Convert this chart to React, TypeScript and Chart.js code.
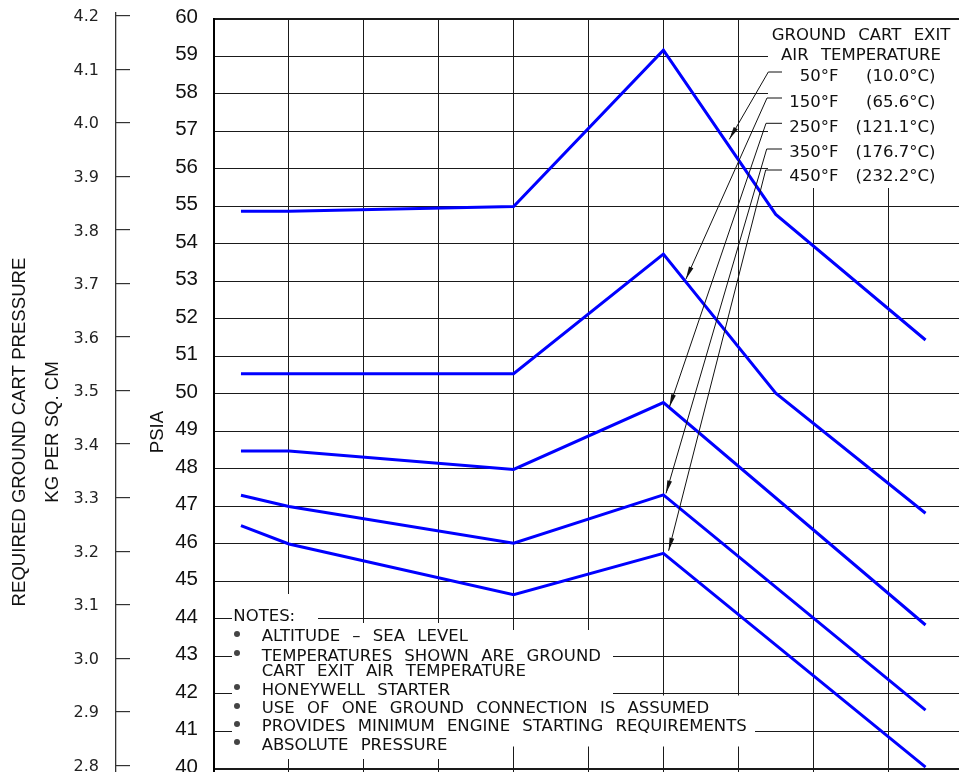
import React, { useEffect, useRef } from 'react';
import { Chart, registerables } from 'chart.js';

Chart.register(...registerables);

// ---------------- data ----------------
const AMBIENT_F = [-52.8, -40, 20, 60, 90, 130];
const PSIA_50F = [54.87, 54.87, 55.0, 59.17, 54.79, 51.44];
const PSIA_150F = [50.54, 50.54, 50.54, 53.73, 50.02, 46.82];
const PSIA_250F = [48.48, 48.48, 47.99, 49.77, null, 43.84];
const PSIA_350F = [47.3, 47.0, 46.02, 47.31, null, 41.57];
const PSIA_450F = [46.49, 46.0, 44.65, 45.75, null, 40.05];

const SERIES_F = ['50°F', '150°F', '250°F', '350°F', '450°F'];
const SERIES_C = ['(10.0°C)', '(65.6°C)', '(121.1°C)', '(176.7°C)', '(232.2°C)'];

const PSIA_TICKS = [40, 41, 42, 43, 44, 45, 46, 47, 48, 49, 50, 51, 52, 53, 54, 55, 56, 57, 58, 59, 60];
const KG_TICKS = [2.8, 2.9, 3.0, 3.1, 3.2, 3.3, 3.4, 3.5, 3.6, 3.7, 3.8, 3.9, 4.0, 4.1, 4.2];

// where each legend arrow points (ambient °F, PSIA)
const ARROW_X = [77.6, 66.0, 61.6, 60.7, 61.4];
const ARROW_PSIA = [56.79, 53.06, 49.65, 47.35, 45.82];

const LEGEND_TITLE = ['GROUND CART EXIT', 'AIR TEMPERATURE'];
const NOTES_TITLE = 'NOTES:';
const NOTE_LINES = [
  'ALTITUDE – SEA LEVEL',
  'TEMPERATURES SHOWN ARE GROUND',
  'CART EXIT AIR TEMPERATURE',
  'HONEYWELL STARTER',
  'USE OF ONE GROUND CONNECTION IS ASSUMED',
  'PROVIDES MINIMUM ENGINE STARTING REQUIREMENTS',
  'ABSOLUTE PRESSURE',
];
const NOTE_BULLET = [true, true, false, true, true, true, true];

// ---------------- layout ----------------
const CANVAS_W = 963;
const CANVAS_H = 865;
const LEGEND_TITLE_Y = [34.5, 54.5];
const LEGEND_CENTER_X = 861;
const LEGEND_ROW_Y = [76, 102, 127, 152, 176];
const LEGEND_F_RIGHT = 838.5;
const LEGEND_C_RIGHT = 935.5;
const LEADER_START = [
  [768.3, 72],
  [767, 98],
  [766, 123.3],
  [766.7, 149],
  [765.7, 170],
];
const STUB_END_X = 782;
const NOTES_TITLE_POS = [233.3, 616.3];
const NOTE_X = 261.7;
const NOTE_Y = [636, 655.5, 671, 689.7, 708, 726, 744.5];
const BULLET_X = 236.7;

const MASKS = [
  [212, 0, 760, 18],
  [768, 20, 200, 168],
  [232, 594, 86, 29],
  [232, 623, 258, 7],
  [232, 630, 381, 66],
  [232, 695.5, 523, 51],
  [232, 746, 228, 13],
];

const BLUE = '#0000ff';
const GRID = '#1a1a1a';
const INK = '#111';
const SANS = "'Liberation Sans', Arial, sans-serif";
const CAD = "'DejaVu Sans', sans-serif";

const maskPlugin = {
  id: 'masks',
  beforeDatasetsDraw(chart: any) {
    const ctx = chart.ctx;
    ctx.save();
    ctx.fillStyle = '#ffffff';
    for (const [x, y, w, h] of MASKS) ctx.fillRect(x, y, w, h);
    ctx.restore();
  },
};

const leaderPlugin = {
  id: 'leaders',
  afterDatasetsDraw(chart: any) {
    const { ctx } = chart;
    const xs = chart.scales.x;
    const ys = chart.scales.y;
    ctx.save();
    ctx.strokeStyle = INK;
    ctx.fillStyle = INK;
    ctx.lineWidth = 1;
    LEADER_START.forEach(([sx, sy], i) => {
      const tx = xs.getPixelForValue(ARROW_X[i]);
      const ty = ys.getPixelForValue(ARROW_PSIA[i]);
      ctx.beginPath();
      ctx.moveTo(STUB_END_X, sy);
      ctx.lineTo(sx, sy);
      ctx.lineTo(tx, ty);
      ctx.stroke();
      const ang = Math.atan2(ty - sy, tx - sx);
      const L = 13;
      const W = 2.4;
      const bx = tx - L * Math.cos(ang);
      const by = ty - L * Math.sin(ang);
      ctx.beginPath();
      ctx.moveTo(tx, ty);
      ctx.lineTo(bx + W * Math.sin(ang), by - W * Math.cos(ang));
      ctx.lineTo(bx - W * Math.sin(ang), by + W * Math.cos(ang));
      ctx.closePath();
      ctx.fill();
    });
    ctx.restore();
  },
};

function makeSeries(label: string, values: (number | null)[]) {
  return {
    label,
    data: AMBIENT_F.map((x, i) => ({ x, y: values[i] })),
    borderColor: BLUE,
    backgroundColor: BLUE,
    borderWidth: 3,
    pointRadius: 0,
    tension: 0,
    fill: false,
    spanGaps: true,
    yAxisID: 'y',
  };
}

const noPad = (s: any) => {
  s.paddingTop = 0;
  s.paddingBottom = 0;
  s.paddingLeft = 0;
  s.paddingRight = 0;
};

export default function App() {
  const ref = useRef<HTMLCanvasElement>(null);

  useEffect(() => {
    const canvas = ref.current;
    if (!canvas) return;
    const chart = new Chart(canvas, {
      type: 'line',
      data: {
        datasets: [
          makeSeries(`${SERIES_F[0]} ${SERIES_C[0]}`, PSIA_50F),
          makeSeries(`${SERIES_F[1]} ${SERIES_C[1]}`, PSIA_150F),
          makeSeries(`${SERIES_F[2]} ${SERIES_C[2]}`, PSIA_250F),
          makeSeries(`${SERIES_F[3]} ${SERIES_C[3]}`, PSIA_350F),
          makeSeries(`${SERIES_F[4]} ${SERIES_C[4]}`, PSIA_450F),
        ],
      },
      options: {
        responsive: false,
        animation: false,
        events: [],
        layout: { autoPadding: false, padding: { top: 13, bottom: 14, left: 0, right: 0 } },
        plugins: {
          legend: { display: false },
          tooltip: { enabled: false },
          title: { display: false },
        },
        scales: {
          x: {
            type: 'linear',
            position: 'bottom',
            min: -60,
            max: 140,
            ticks: { display: false, stepSize: 20 },
            grid: { color: GRID, lineWidth: 1, drawTicks: false },
            border: { display: false },
            afterFit: (s: any) => {
              s.height = 0;
              noPad(s);
            },
          },
          y: {
            type: 'linear',
            position: 'left',
            weight: 0,
            min: 37.8133,
            max: 60.16,
            bounds: 'data',
            afterBuildTicks: (s: any) => {
              s.ticks = PSIA_TICKS.map((v) => ({ value: v }));
            },
            ticks: {
              font: { family: SANS, size: 20.5 },
              color: INK,
              padding: 16,
              labelOffset: -2,
              callback: (v: any) => String(v),
            },
            grid: {
              color: GRID,
              lineWidth: (c: any) => (c.tick && (c.tick.value === 60 || c.tick.value === 40) ? 2 : 1),
              drawTicks: false,
            },
            border: { display: true, color: '#000', width: 2 },
            title: {
              display: true,
              text: 'PSIA',
              color: INK,
              font: { family: SANS, size: 18.6, lineHeight: 1.2 },
              padding: { top: 30.3, bottom: 0 },
            },
            afterFit: (s: any) => {
              s.width = 98;
              noPad(s);
            },
          },
          kg: {
            type: 'linear',
            position: 'left',
            display: true,
            weight: 1,
            min: 2.63986,
            max: 4.20504,
            bounds: 'data',
            afterBuildTicks: (s: any) => {
              s.ticks = KG_TICKS.map((v) => ({ value: v }));
            },
            ticks: {
              font: { family: CAD, size: 16 },
              color: '#222',
              padding: 31,
              labelOffset: 1.5,
              callback: (v: any) => Number(v).toFixed(1),
            },
            grid: {
              drawOnChartArea: false,
              drawTicks: true,
              tickLength: -14,
              color: '#333',
              lineWidth: 1.2,
            },
            border: { display: true, color: '#333', width: 1.3 },
            title: {
              display: true,
              text: ['REQUIRED GROUND CART PRESSURE', 'KG PER SQ. CM'],
              color: INK,
              font: { family: SANS, size: 18.6, lineHeight: 1.806 },
              padding: { top: 2.9, bottom: 0 },
            },
            afterFit: (s: any) => {
              s.width = 116;
              noPad(s);
            },
          },
        },
      } as any,
      plugins: [maskPlugin, leaderPlugin],
    });
    return () => chart.destroy();
  }, []);

  const text = (content: string, x: number, cy: number, align: 'left' | 'center' | 'right', key: string) => (
    <div
      key={key}
      style={{
        position: 'absolute',
        left: x,
        top: cy - 10,
        height: 20,
        lineHeight: '20px',
        fontFamily: CAD,
        fontSize: 16.5,
        wordSpacing: 7,
        whiteSpace: 'pre',
        color: INK,
        transform: align === 'center' ? 'translateX(-50%)' : align === 'right' ? 'translateX(-100%)' : undefined,
      }}
    >
      {content}
    </div>
  );

  return (
    <div
      style={{
        position: 'fixed',
        left: 0,
        top: 0,
        width: 959,
        height: 772,
        overflow: 'hidden',
        background: '#fff',
      }}
    >
      <canvas
        ref={ref}
        width={CANVAS_W}
        height={CANVAS_H}
        style={{ position: 'absolute', left: 0, top: 0, width: CANVAS_W, height: CANVAS_H, display: 'block' }}
      />
      {LEGEND_TITLE.map((t, i) => text(t, LEGEND_CENTER_X, LEGEND_TITLE_Y[i], 'center', 'lt' + i))}
      {SERIES_F.map((t, i) => text(t, LEGEND_F_RIGHT, LEGEND_ROW_Y[i], 'right', 'lf' + i))}
      {SERIES_C.map((t, i) => text(t, LEGEND_C_RIGHT, LEGEND_ROW_Y[i], 'right', 'lc' + i))}
      {text(NOTES_TITLE, NOTES_TITLE_POS[0], NOTES_TITLE_POS[1], 'left', 'nt')}
      {NOTE_LINES.map((t, i) => text(t, NOTE_X, NOTE_Y[i], 'left', 'n' + i))}
      {NOTE_LINES.map((_, i) =>
        NOTE_BULLET[i] ? (
          <div
            key={'b' + i}
            style={{
              position: 'absolute',
              left: BULLET_X - 3,
              top: NOTE_Y[i] - 2.5 - 3,
              width: 6,
              height: 6,
              borderRadius: 3,
              background: '#444',
            }}
          />
        ) : null
      )}
    </div>
  );
}
